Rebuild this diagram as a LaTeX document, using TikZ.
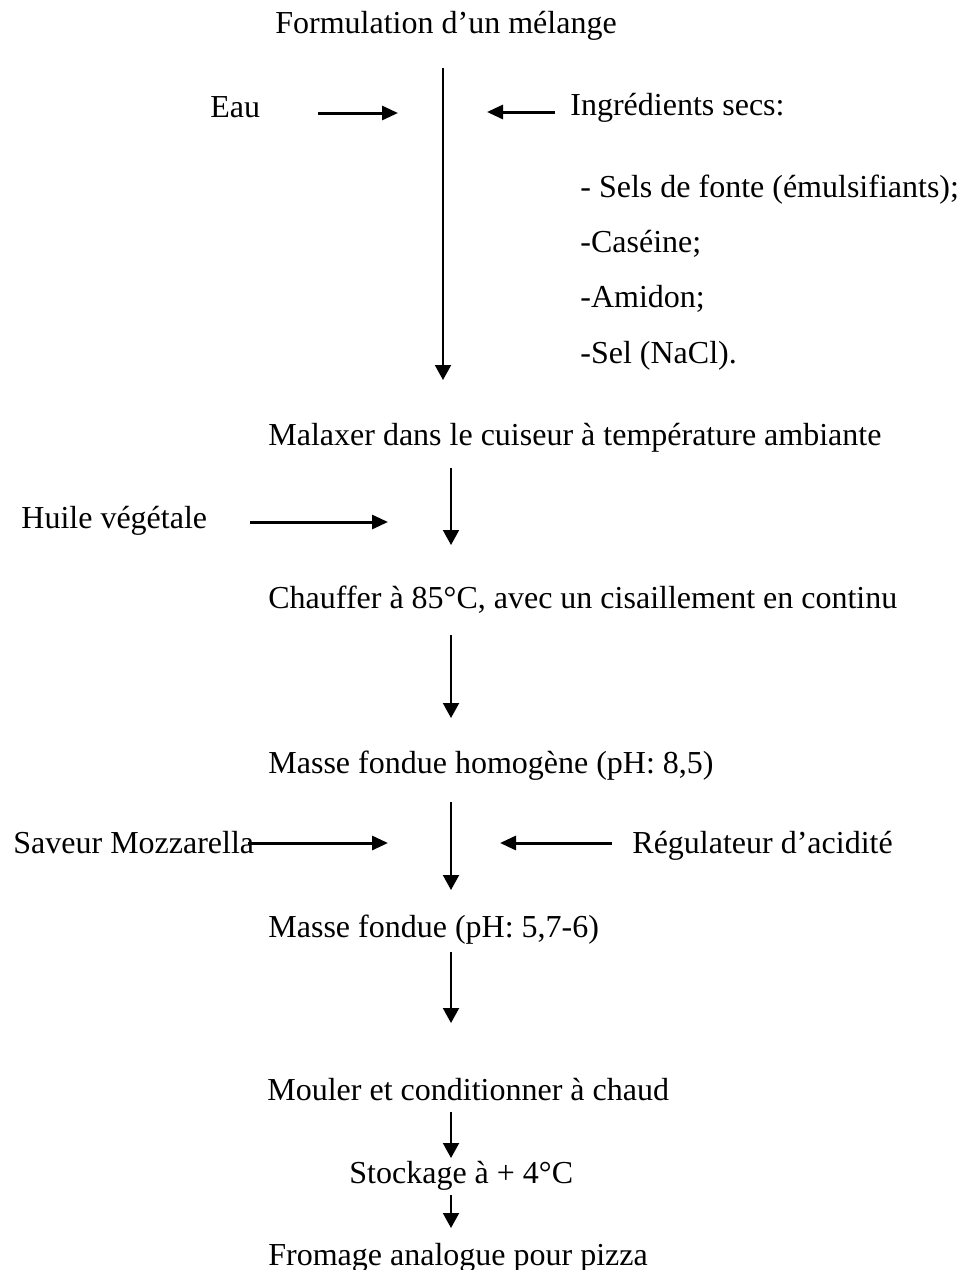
\documentclass[tikz,border=0pt]{standalone}
\usepackage{fontspec}
\setmainfont{Liberation Serif}
\usetikzlibrary{arrows.meta}
\tikzset{
  txt/.style={anchor=base west,inner sep=0pt,font=\fontsize{16}{19}\selectfont},
  down/.style={line width=1pt,-{Triangle[length=7.5pt,width=8pt]}},
  side/.style={line width=1.5pt,-{Triangle[length=8pt,width=7pt]}}
}
\begin{document}
\begin{tikzpicture}[x=0.5pt,y=-0.5pt]
      \useasboundingbox (0,0) rectangle (960,1270);
      \draw
        (275,33) node[txt] (form){Formulation d’un mélange}
        (210,117) node[txt] (eau){Eau}
        (570,115) node[txt] (ingr){Ingrédients secs:}
        (580,197) node[txt] (sels){- Sels de fonte (émulsifiants);}
        (580,252) node[txt] (caseine){-Caséine;}
        (580,307) node[txt] (amidon){-Amidon;}
        (580,363) node[txt] (sel){-Sel (NaCl).}
        (268,445) node[txt] (malax){Malaxer dans le cuiseur à température ambiante}
        (21,528) node[txt] (huile){Huile végétale}
        (268,608) node[txt] (chauf){Chauffer à 85°C, avec un cisaillement en continu}
        (268,773) node[txt] (masse){Masse fondue homogène (pH: 8,5)}
        (13,853) node[txt] (saveur){Saveur Mozzarella}
        (632,853) node[txt] (regul){Régulateur d’acidité}
        (268,937) node[txt] (fondue){Masse fondue (pH: 5,7-6)}
        (267,1100) node[txt] (mouler){Mouler et conditionner à chaud}
        (349,1183) node[txt] (stock){Stockage à + 4°C}
        (268,1265) node[txt] (fromage){Fromage analogue pour pizza};
      % arrow ends
      \coordinate (a0) at (443,68);   \coordinate (a1) at (443,380);
      \coordinate (e0) at (318,113);  \coordinate (e1) at (398,113);
      \coordinate (i0) at (555,112);  \coordinate (i1) at (487,112);
      \coordinate (b0) at (451,468);  \coordinate (b1) at (451,545);
      \coordinate (h0) at (250,522);  \coordinate (h1) at (388,522);
      \coordinate (c0) at (451,635);  \coordinate (c1) at (451,718);
      \coordinate (d0) at (451,802);  \coordinate (d1) at (451,890);
      \coordinate (s0) at (248,843);  \coordinate (s1) at (388,843);
      \coordinate (r0) at (612,843);  \coordinate (r1) at (500,843);
      \coordinate (f0) at (451,952);  \coordinate (f1) at (451,1023);
      \coordinate (g0) at (451,1112); \coordinate (g1) at (451,1158);
      \coordinate (k0) at (451,1195); \coordinate (k1) at (451,1228);
      \begin{scope}[down]
        \draw (a0) to (a1);
        \draw (b0) to (b1);
        \draw (c0) to (c1);
        \draw (d0) to (d1);
        \draw (f0) to (f1);
        \draw (g0) to (g1);
        \draw (k0) to (k1);
      \end{scope}
      \begin{scope}[side]
        \draw (e0) to (e1);
        \draw (i0) to (i1);
        \draw (h0) to (h1);
        \draw (s0) to (s1);
        \draw (r0) to (r1);
      \end{scope}
    \end{tikzpicture}
\end{document}
